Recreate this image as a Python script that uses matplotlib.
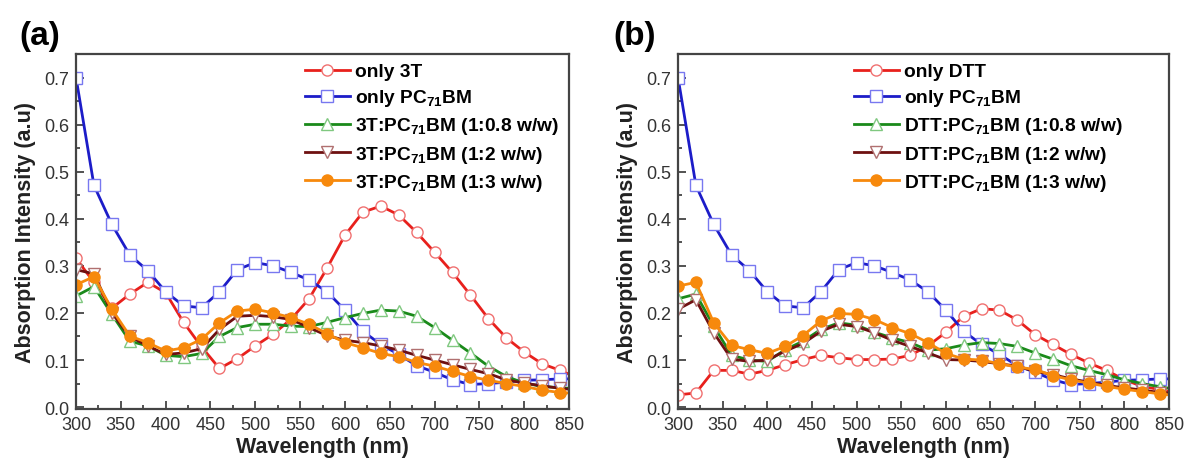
import matplotlib
matplotlib.use('Agg')
import matplotlib.pyplot as plt
from matplotlib.ticker import MultipleLocator
import numpy as np

plt.rcParams['font.family'] = ['Liberation Sans', 'DejaVu Sans']
plt.rcParams['mathtext.fontset'] = 'custom'
plt.rcParams['mathtext.rm'] = 'Liberation Sans'
plt.rcParams['mathtext.bf'] = 'Liberation Sans:bold'

# wavelength (nm): marker every 20 nm, last point is the line end at 850
wavelength = list(range(300, 841, 20)) + [850]

# ---- panel (a): 3T ----
only_3t = [0.316, 0.265, 0.210, 0.240, 0.265, 0.243, 0.180, 0.128, 0.082, 0.103,
           0.130, 0.155, 0.187, 0.230, 0.295, 0.365, 0.414, 0.427, 0.408, 0.371,
           0.329, 0.286, 0.238, 0.188, 0.147, 0.117, 0.092, 0.078, 0.070]
only_pcbm = [0.700, 0.471, 0.388, 0.323, 0.290, 0.245, 0.215, 0.211, 0.245, 0.292,
             0.307, 0.300, 0.286, 0.270, 0.245, 0.206, 0.161, 0.133, 0.112, 0.088,
             0.074, 0.058, 0.048, 0.050, 0.053, 0.057, 0.058, 0.060, 0.060]
t3_08 = [0.236, 0.256, 0.197, 0.140, 0.130, 0.110, 0.107, 0.114, 0.150, 0.169,
         0.176, 0.176, 0.172, 0.171, 0.180, 0.190, 0.199, 0.206, 0.204, 0.193,
         0.169, 0.142, 0.115, 0.087, 0.065, 0.051, 0.044, 0.041, 0.040]
t3_2 = [0.292, 0.283, 0.200, 0.150, 0.130, 0.112, 0.115, 0.124, 0.165, 0.193,
        0.195, 0.192, 0.186, 0.169, 0.152, 0.142, 0.137, 0.130, 0.121, 0.110,
        0.100, 0.090, 0.080, 0.071, 0.058, 0.051, 0.045, 0.040, 0.038]
t3_3 = [0.260, 0.277, 0.208, 0.151, 0.137, 0.119, 0.126, 0.144, 0.179, 0.204,
        0.208, 0.200, 0.190, 0.176, 0.156, 0.137, 0.126, 0.114, 0.107, 0.095,
        0.087, 0.076, 0.065, 0.057, 0.050, 0.044, 0.036, 0.031, 0.030]

# ---- panel (b): DTT ----
only_dtt = [0.026, 0.030, 0.078, 0.078, 0.070, 0.078, 0.090, 0.101, 0.110, 0.105,
            0.101, 0.101, 0.102, 0.110, 0.130, 0.159, 0.193, 0.209, 0.206, 0.185,
            0.154, 0.133, 0.112, 0.094, 0.078, 0.058, 0.044, 0.037, 0.033]
dtt_08 = [0.230, 0.240, 0.172, 0.110, 0.100, 0.097, 0.122, 0.140, 0.165, 0.179,
          0.174, 0.159, 0.147, 0.137, 0.121, 0.124, 0.132, 0.137, 0.135, 0.129,
          0.115, 0.102, 0.088, 0.078, 0.069, 0.058, 0.050, 0.043, 0.040]
dtt_2 = [0.208, 0.228, 0.158, 0.102, 0.097, 0.100, 0.119, 0.135, 0.161, 0.176,
         0.171, 0.158, 0.142, 0.129, 0.115, 0.101, 0.100, 0.097, 0.092, 0.087,
         0.076, 0.069, 0.060, 0.053, 0.046, 0.041, 0.036, 0.031, 0.030]
dtt_3 = [0.257, 0.265, 0.179, 0.131, 0.122, 0.114, 0.129, 0.152, 0.183, 0.199,
         0.197, 0.186, 0.169, 0.156, 0.137, 0.114, 0.102, 0.100, 0.092, 0.085,
         0.080, 0.067, 0.058, 0.051, 0.044, 0.038, 0.033, 0.028, 0.026]

sub = r'PC$_\mathbf{71}$BM'
labels_a = ['only 3T', 'only ' + sub, '3T:' + sub + ' (1:0.8 w/w)',
            '3T:' + sub + ' (1:2 w/w)', '3T:' + sub + ' (1:3 w/w)']
labels_b = ['only DTT', 'only ' + sub, 'DTT:' + sub + ' (1:0.8 w/w)',
            'DTT:' + sub + ' (1:2 w/w)', 'DTT:' + sub + ' (1:3 w/w)']

# line colour, marker, marker edge, marker face
styles = [
    ('#e8201c', 'o', '#f07070', 'white'),
    ('#1c1cc8', 's', '#7878f0', 'white'),
    ('#1a8a1a', '^', '#80c880', 'white'),
    ('#6e1010', 'v', '#b07070', 'white'),
    ('#f7890c', 'o', '#f7890c', '#f7890c'),
]

fig = plt.figure(figsize=(11.86, 4.64), dpi=100)
ax_a = fig.add_axes([0.0641, 0.1164, 0.4157, 0.7651])
ax_b = fig.add_axes([0.5717, 0.1164, 0.4140, 0.7651])

panels = [
    (ax_a, [only_3t, only_pcbm, t3_08, t3_2, t3_3], labels_a, '(a)', 0.016, 0.464),
    (ax_b, [only_dtt, only_pcbm, dtt_08, dtt_2, dtt_3], labels_b, '(b)', 0.517, 0.358),
]

for ax, series, labels, tag, tag_x, leg_x in panels:
    for ys, lab, (col, mk, mec, mfc) in zip(series, labels, styles):
        ax.plot(wavelength, ys, color=col, lw=2.0, marker=mk, markersize=8,
                markeredgecolor=mec, markerfacecolor=mfc, markeredgewidth=1.0,
                markevery=slice(0, len(wavelength) - 1), label=lab)
    ax.set_xlim(300, 850)
    ax.set_ylim(-0.004, 0.75)
    ax.xaxis.set_major_locator(MultipleLocator(50))
    ax.xaxis.set_minor_locator(MultipleLocator(25))
    ax.yaxis.set_major_locator(MultipleLocator(0.1))
    ax.yaxis.set_minor_locator(MultipleLocator(0.05))
    ax.tick_params(which='both', direction='in', top=False, right=False,
                   colors='#444444', labelcolor='#333333', labelsize=13, width=1.3)
    ax.tick_params(which='major', length=6, pad=5)
    ax.tick_params(which='minor', length=3)
    for s in ax.spines.values():
        s.set_color('#444444')
        s.set_linewidth(1.6)
    ax.set_xlabel('Wavelength (nm)', fontsize=15.5, fontweight='bold', color='#222222', labelpad=2)
    ax.set_ylabel('Absorption Intensity (a.u)', fontsize=15.5, fontweight='bold', color='#222222', labelpad=6)
    ax.legend(loc='upper left', frameon=False, prop={'weight': 'bold', 'size': 13.8},
              handlelength=2.35, handletextpad=0.25, labelspacing=0.37,
              borderpad=0, borderaxespad=0, bbox_to_anchor=(leg_x, 0.975))
    fig.text(tag_x, 0.922, tag, fontsize=24, fontweight='bold', ha='left', va='center')

fig.savefig('out.png', dpi=100)
